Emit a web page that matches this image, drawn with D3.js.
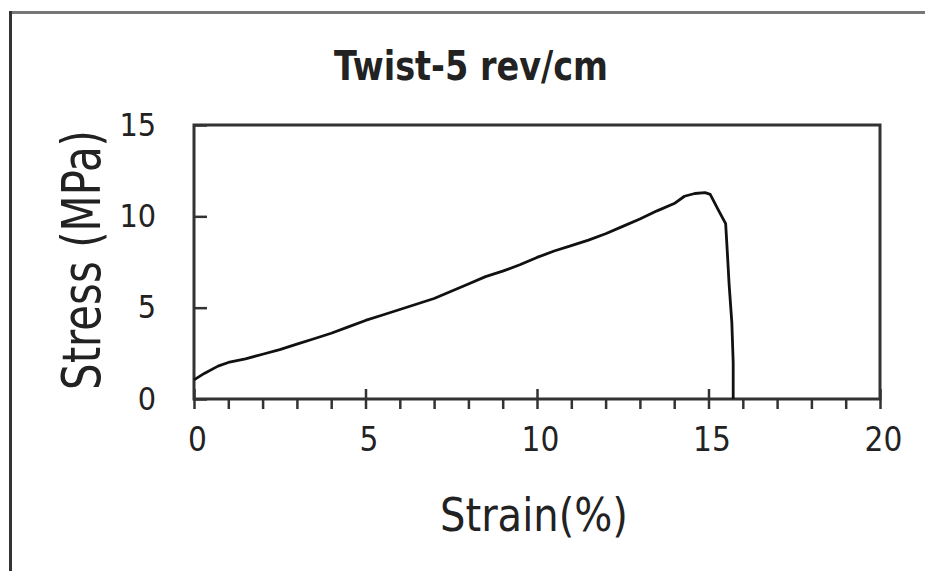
<!DOCTYPE html>
<html>
<head>
<meta charset="utf-8">
<script src="https://cdn.jsdelivr.net/npm/d3@7"></script>
<style>
  body { margin: 0; background: #fff; }
  text { font-family: "DejaVu Sans Condensed", "DejaVu Sans", sans-serif; fill: #222; }
</style>
</head>
<body>
<div id="chart"></div>
<script>
var svgWidth = 925;
var svgHeight = 571;

var margin = { top: 125, right: 45, bottom: 172, left: 194 };
var width = svgWidth - margin.left - margin.right;   // 686
var height = svgHeight - margin.top - margin.bottom; // 274

// data
var strain = [0, 0.3, 0.7, 1, 1.5, 2, 2.5, 3, 3.5, 4, 4.5, 5, 5.5, 6, 6.5, 7, 7.5, 8, 8.5, 9, 9.5, 10, 10.5, 11, 11.5, 12, 12.5, 13, 13.5, 14, 14.3, 14.6, 14.9, 15.05, 15.3, 15.5, 15.55, 15.6, 15.68, 15.72, 15.72];
var stress = [1.05, 1.4, 1.8, 2.0, 2.2, 2.45, 2.7, 3.0, 3.3, 3.6, 3.95, 4.3, 4.6, 4.9, 5.2, 5.5, 5.9, 6.3, 6.7, 7.0, 7.35, 7.75, 8.1, 8.4, 8.7, 9.05, 9.45, 9.85, 10.3, 10.7, 11.1, 11.25, 11.3, 11.2, 10.3, 9.6, 8.0, 6.3, 4.2, 2.0, 0];
var xTicks = [0, 5, 10, 15, 20];
var xMinorTicks = d3.range(0, 21, 1);
var yTicks = [0, 5, 10, 15];

var svg = d3.select("#chart")
  .append("svg")
  .attr("width", svgWidth)
  .attr("height", svgHeight);

// outer frame (top and left edges only)
svg.append("line")
  .attr("x1", 10).attr("x2", svgWidth).attr("y1", 12.5).attr("y2", 12.5)
  .attr("stroke", "#777").attr("stroke-width", 3);
svg.append("line")
  .attr("x1", 10.5).attr("x2", 10.5).attr("y1", 11).attr("y2", svgHeight)
  .attr("stroke", "#333").attr("stroke-width", 3);

var chartGroup = svg.append("g")
  .attr("transform", `translate(${margin.left}, ${margin.top})`);

var x = d3.scaleLinear().domain([0, 20]).range([0, width]);
var y = d3.scaleLinear().domain([0, 15]).range([height, 0]);

// minor ticks below x axis
chartGroup.append("g")
  .attr("transform", `translate(0, ${height})`)
  .call(d3.axisBottom(x).tickValues(xMinorTicks).tickSize(10).tickFormat(""))
  .call(g => g.select(".domain").remove())
  .selectAll("line").attr("stroke", "#333").attr("stroke-width", 2.5);

// major ticks above x axis (inside)
chartGroup.append("g")
  .attr("transform", `translate(0, ${height})`)
  .call(d3.axisTop(x).tickValues(xTicks).tickSize(10).tickFormat(""))
  .call(g => g.select(".domain").remove())
  .selectAll("line").attr("stroke", "#333").attr("stroke-width", 2.5);

// x tick labels
var xAxis = chartGroup.append("g")
  .attr("transform", `translate(0, ${height})`)
  .call(d3.axisBottom(x).tickValues(xTicks).tickSize(0).tickPadding(29))
  .call(g => g.select(".domain").remove())
  .attr("font-size", 33)
  .attr("font-family", null);
xAxis.selectAll("text")
  .attr("dx", "3px")
  .attr("fill", "#222");

// y ticks inside
var yAxis = chartGroup.append("g")
  .call(d3.axisRight(y).tickValues(yTicks).tickSize(13).tickFormat(""))
  .call(g => g.select(".domain").remove());
yAxis.selectAll("line").attr("stroke", "#333").attr("stroke-width", 2.5);

// y tick labels
var yLabels = chartGroup.append("g")
  .call(d3.axisLeft(y).tickValues(yTicks).tickSize(0).tickPadding(38))
  .call(g => g.select(".domain").remove())
  .attr("font-size", 32)
  .attr("font-family", null);
yLabels.selectAll("text")
  .attr("fill", "#222");

// plot box
chartGroup.append("rect")
  .attr("x", 0).attr("y", 0)
  .attr("width", width).attr("height", height)
  .attr("fill", "none")
  .attr("stroke", "#333")
  .attr("stroke-width", 3);

// curve
var points = strain.map((s, i) => [s, stress[i]]);
var line = d3.line()
  .x(d => x(d[0]))
  .y(d => y(d[1]));

chartGroup.append("path")
  .datum(points)
  .attr("d", line)
  .attr("fill", "none")
  .attr("stroke", "#111")
  .attr("stroke-width", 2.8)
  .attr("stroke-linejoin", "round");

// title
svg.append("text")
  .attr("x", 471)
  .attr("y", 80)
  .attr("text-anchor", "middle")
  .attr("font-size", "40px")
  .attr("font-weight", "bold")
  .attr("textLength", 274)
  .attr("lengthAdjust", "spacingAndGlyphs")
  .text("Twist-5 rev/cm");

// axis labels
chartGroup.append("text")
  .attr("transform", "rotate(-90)")
  .attr("x", -height / 2 + 2)
  .attr("y", -margin.left + 100)
  .attr("text-anchor", "middle")
  .attr("font-size", "54px")
  .attr("textLength", 260)
  .attr("lengthAdjust", "spacingAndGlyphs")
  .text("Stress (MPa)");

chartGroup.append("text")
  .attr("x", 534 - margin.left)
  .attr("y", height + 132)
  .attr("text-anchor", "middle")
  .attr("font-size", "47px")
  .attr("textLength", 188)
  .attr("lengthAdjust", "spacingAndGlyphs")
  .text("Strain(%)");
</script>
</body>
</html>
